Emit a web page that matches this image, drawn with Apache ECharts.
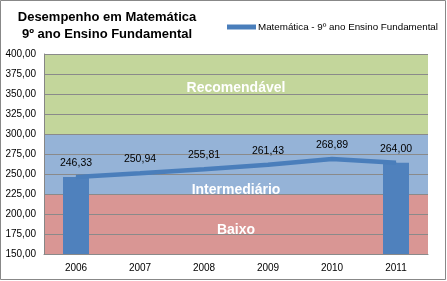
<!DOCTYPE html>
<html><head><meta charset="utf-8">
<script src="https://cdn.jsdelivr.net/npm/echarts@6/dist/echarts.min.js"></script>
<style>html,body{margin:0;padding:0;background:#fff}#c{width:447px;height:281px}</style>
</head><body><div id="c"></div>
<script>
const categories = ['2006','2007','2008','2009','2010','2011'];
const lineValues = [246.33, 250.94, 255.81, 261.43, 268.89, 264.00];
const barValues = [246.33, null, null, null, null, 264.00];
const bands = [
  {name:'Recomendável', from:300, to:400},
  {name:'Intermediário', from:225, to:300},
  {name:'Baixo', from:150, to:225}
];
const bandColors = ['#C3D69B','#95B3D7','#D99694'];
const bandOffsets = [[0,-6],[0,26],[0,6]];
const fmt = v => v.toFixed(2).replace('.', ',');
const F = '"Liberation Sans", Arial, sans-serif';
const chart = echarts.init(document.getElementById('c'));
chart.setOption({
  animation:false,
  backgroundColor:'#fff',
  title:{text:'Desempenho em Matemática\n9º ano Ensino Fundamental', left:102, top:4, textAlign:'center',
    textStyle:{fontFamily:F, fontSize:13, fontWeight:'bold', color:'#000', lineHeight:17}},
  legend:{data:['Matemática - 9º ano Ensino Fundamental'], right:4, top:17, itemWidth:29, itemHeight:5, itemGap:2,
    icon:'rect', textStyle:{fontFamily:F, fontSize:9.8, color:'#000', padding:[0,0,0,-3]}},
  grid:{left:44, right:19, top:54, bottom:27},
  xAxis:{type:'category', data:categories, boundaryGap:true,
    axisLine:{lineStyle:{color:'#868686'}}, axisTick:{show:false},
    axisLabel:{fontFamily:F, fontSize:10, color:'#000', margin:9}},
  yAxis:{type:'value', min:150, max:400, interval:25, z:3,
    axisLine:{show:true, lineStyle:{color:'#868686'}}, axisTick:{show:false},
    splitLine:{lineStyle:{color:'#8a8a8a', width:1}},
    axisLabel:{fontFamily:F, fontSize:10, color:'#000', margin:8, formatter:fmt}},
  graphic:[{type:'rect', shape:{x:0.5,y:0.5,width:445,height:279}, style:{fill:'none', stroke:'#888', lineWidth:1}, z:10}],
  series:[
    {name:'bands', type:'line', data:[], z:1, silent:true,
      markArea:{silent:true, data: bands.map((b,i)=>[
        {yAxis:b.from, itemStyle:{color:bandColors[i]},
          label:{show:true, position:'inside', offset:bandOffsets[i], formatter:b.name,
            fontFamily:F, fontSize:14, fontWeight:'bold', color:'#fff'}},
        {yAxis:b.to}
      ])}},
    {name:'bar', type:'bar', data:barValues, barWidth:26, z:4, itemStyle:{color:'#4F81BD'}},
    {name:'Matemática - 9º ano Ensino Fundamental', type:'line', data:lineValues, z:5,
      showSymbol:true, symbol:'circle', symbolSize:1, lineStyle:{width:4.5, color:'#4A7EBB'}, itemStyle:{color:'#4A7EBB'},
      label:{show:true, position:'top', distance:8, formatter:p=>fmt(p.value), fontFamily:F, fontSize:10.5, color:'#000'}}
  ]
});
</script></body></html>
